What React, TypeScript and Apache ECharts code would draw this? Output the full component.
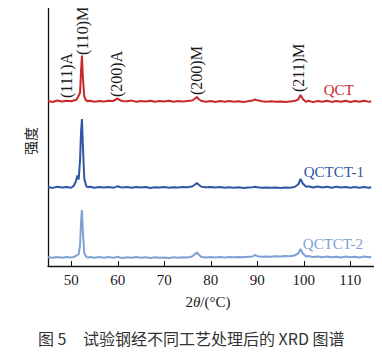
import React, { useEffect, useRef } from "react";
import * as echarts from "echarts";

// 2θ sampling points (degrees)
const twoTheta = [
  45, 46, 47, 48, 49, 50, 50.5, 51, 51.3, 51.6, 51.9, 52.1, 52.3, 52.5, 52.8, 53.2, 53.6, 54,
  55, 56, 57, 58, 59, 59.6, 60, 60.4, 61, 62, 63, 64, 65, 66, 67, 68, 69, 70, 71, 72, 73, 74,
  75, 76, 76.5, 77, 77.5, 78, 79, 80, 81, 82, 83, 84, 85, 86, 87, 88, 89, 89.5, 90, 91, 92, 93,
  94, 95, 96, 97, 98, 98.8, 99.3, 99.8, 100.5, 101, 102, 103, 104, 105, 106, 107, 108, 109, 110,
  111, 112, 113, 114, 114.5,
];

// relative intensities (a.u.) of each pattern
const qct = [
  0.5, -0.5, 1, 0, 0.8, 0.2, 1, 1.5, 3, 6, 9, 30, 46, 24, 5, 1, 0.3, 0.8,
  -0.3, 0.6, 0, 0.7, 0.5, 2, 3, 1.5, 0.5, 0.2, 0.9, -0.2, 0.6, 0.1, 0.8, -0.3, 0.5, 0, 0.7, -0.2, 0.4, 0.1,
  0.6, 1, 2.5, 4.5, 2, 0.6, -0.3, 0.5, -0.4, 0.4, -0.2, 0.6, -0.3, 0.2, -0.4, 0.3, 1, 2, 1.2, 0.3, -0.2, 0.2,
  -0.3, -0.1, -0.4, 0.1, 0.4, 2, 6.5, 2.5, -0.5, 0.8, -0.6, 0.5, -0.3, 0.7, -0.4, 0.6, -0.2, 0.8, -0.5,
  0.4, -0.3, 0.7, -0.4, 0.3,
];
const qctct1 = [
  0.4, -0.4, 0.8, 0.1, 0.6, -0.2, 1.5, 6, 12, 8, 28, 55, 68.5, 42, 9, 1.5, 0.2, 0.7,
  -0.3, 0.5, 0.1, 0.6, -0.2, 0.6, 1.2, 0.5, 0, 0.6, -0.3, 0.4, 0, 0.5, -0.4, 0.3, 0, 0.5, -0.3, 0.3, -0.1, 0.4,
  0.2, 1, 2.5, 4.5, 2.5, 0.8, 0.2, 0.5, 0, 0.4, -0.3, 0.3, -0.2, 0.2, -0.4, 0.1, 0.3, 0.8, 0.3, -0.2, 0.1, -0.3,
  0, -0.4, 0, -0.2, 0.5, 3, 8.5, 4, 0.8, 1.2, 0, 0.9, 0.1, 0.8, -0.2, 0.7, 0, 0.6, -0.3,
  0.5, -0.2, 0.4, -0.3, 0.2,
];
const qctct2 = [
  0.8, 0.2, 1, 0.3, 0.9, 0.4, 1, 2, 3, 4, 13, 36, 48, 27, 5, 1.2, 0.4, 1,
  0.2, 1, 0.3, 0.9, 0.2, 0.8, 1.3, 0.6, 0.1, 0.8, 0.2, 1, 0.3, 0.8, 0.1, 0.7, 0.2, 0.6, 0.1, 0.7, 0.3, 0.8,
  0.5, 1.5, 3.5, 5.5, 3, 1, 0.6, 1, 0.4, 0.9, 0.5, 1.1, 0.7, 1, 0.8, 1.2, 1.5, 3, 1.8, 1.2, 1.6, 1.3,
  1.8, 1.5, 2, 1.8, 2.5, 4.5, 9, 4.5, 1.5, 2, 0.9, 1.6, 0.8, 1.4, 0.7, 1.3, 0.6, 1.5, 0.7,
  1.3, 0.6, 1.4, 0.7, 1.2,
];

const seriesNames = ["QCT", "QCTCT-1", "QCTCT-2"];
const seriesValues = [qct, qctct1, qctct2];
const stackOffsets = [164.5, 78.5, 8];
const seriesColors = ["#c9282b", "#3156a3", "#7ea1d3"];
// series name labels: [2θ, intensity] of left-centre anchor
const nameLabelAt = [
  [104.3, 176],
  [100.0, 94],
  [99.8, 22],
];

const xTicks = [50, 60, 70, 80, 90, 100, 110];

// peak annotations: [text, 2θ, intensity at start of rotated text]
const peakLabels: [string, number, number][] = [
  ["(111)A", 49.0, 168],
  ["(110)M", 52.4, 211],
  ["(200)A", 59.8, 169],
  ["(200)M", 77.0, 171],
  ["(211)M", 98.9, 174],
];

const SERIF = "'Liberation Serif', 'Times New Roman', serif";
const CJK = "'Noto Sans CJK SC', sans-serif";

export default function App() {
  const ref = useRef<HTMLDivElement>(null);
  useEffect(() => {
    if (!ref.current) return;
    const chart = echarts.init(ref.current, null, { renderer: "svg" });
    const series = seriesNames.map((name, i) => ({
      name,
      type: "line",
      showSymbol: false,
      symbol: "none",
      data: twoTheta.map((t, k) => [t, seriesValues[i][k] + stackOffsets[i]]),
      lineStyle: { color: seriesColors[i], width: 2 },
      itemStyle: { color: seriesColors[i] },
      z: 3 - i,
    }));
    chart.setOption({
      animation: false,
      grid: { left: 48, right: 8.5, top: 7, bottom: 90 },
      xAxis: {
        type: "value",
        min: 45,
        max: 115,
        axisLine: { show: true, lineStyle: { color: "#111", width: 1.3 } },
        axisTick: {
          show: true,
          inside: true,
          length: 5,
          customValues: xTicks,
          lineStyle: { color: "#111", width: 1 },
        },
        axisLabel: {
          customValues: xTicks,
          margin: 6,
          color: "#1a1a1a",
          fontFamily: SERIF,
          fontSize: 15,
        },
        splitLine: { show: false },
      },
      yAxis: {
        type: "value",
        min: 0,
        max: 259,
        axisLine: { show: true, lineStyle: { color: "#111", width: 1.3 } },
        axisTick: { show: false },
        axisLabel: { show: false },
        splitLine: { show: false },
      },
      series,
    });

    const g: any[] = [];
    peakLabels.forEach(([text, t, v]) => {
      const [px, py] = chart.convertToPixel({ gridIndex: 0 }, [t, v]) as number[];
      g.push({
        type: "text",
        x: px,
        y: py,
        rotation: Math.PI / 2,
        style: {
          text,
          fill: "#1a1a1a",
          font: `16px ${SERIF}`,
          align: "left",
          verticalAlign: "middle",
        },
      });
    });
    seriesNames.forEach((name, i) => {
      const [px, py] = chart.convertToPixel({ gridIndex: 0 }, nameLabelAt[i]) as number[];
      g.push({
        type: "text",
        x: px,
        y: py,
        style: {
          text: name,
          fill: seriesColors[i],
          font: `15px ${SERIF}`,
          align: "left",
          verticalAlign: "middle",
        },
      });
    });
    // axis titles and caption
    g.push({
      type: "text",
      x: 30,
      y: 141,
      rotation: Math.PI / 2,
      style: {
        text: "强度",
        fill: "#1a1a1a",
        font: `14px ${CJK}`,
        align: "center",
        verticalAlign: "middle",
      },
    });
    g.push({
      type: "text",
      x: 208,
      y: 302,
      style: {
        text: "2{i|θ}/(°C)",
        fill: "#1a1a1a",
        font: `15px ${SERIF}`,
        align: "center",
        verticalAlign: "middle",
        rich: {
          i: { fontStyle: "italic", fontFamily: SERIF, fontSize: 15, fill: "#1a1a1a" },
        },
      },
    });
    g.push({
      type: "text",
      x: 38,
      y: 338,
      style: {
        text: "图 5",
        fill: "#333",
        font: `16px ${CJK}`,
        align: "left",
        verticalAlign: "middle",
      },
    });
    g.push({
      type: "text",
      x: 83,
      y: 338,
      style: {
        text: "试验钢经不同工艺处理后的 XRD 图谱",
        fill: "#333",
        font: `16px ${CJK}`,
        align: "left",
        verticalAlign: "middle",
      },
    });
    chart.setOption({ graphic: g });
    return () => chart.dispose();
  }, []);
  return <div ref={ref} style={{ width: 382, height: 356, margin: -8 }} />;
}
